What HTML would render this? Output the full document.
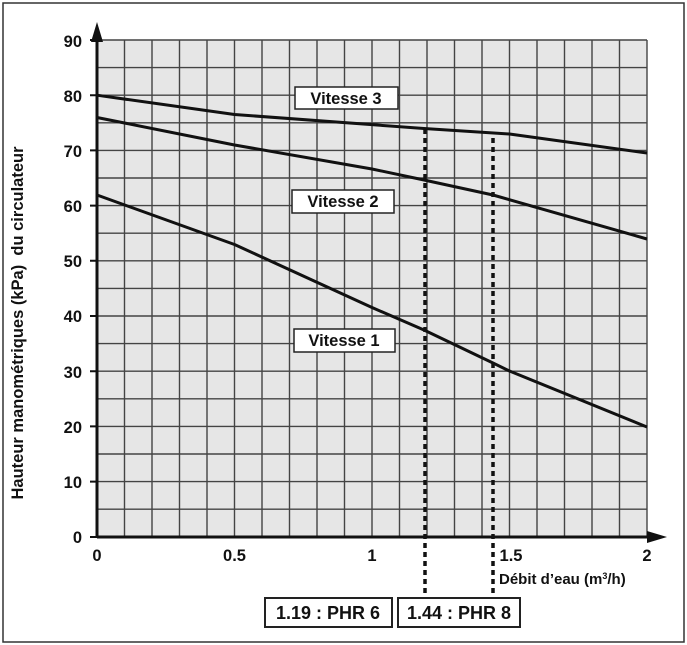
<!DOCTYPE html>
<html><head><style>body{margin:0;background:#fff}svg{display:block}</style></head><body>
<svg width="687" height="645" viewBox="0 0 687 645" font-family="Liberation Sans, sans-serif" font-weight="bold">
<rect x="3" y="3" width="681" height="639" fill="#fff" stroke="#333" stroke-width="1.5"/>
<rect x="97" y="40" width="550" height="497" fill="#e6e6e6"/>
<g stroke="#444" stroke-width="1.4">
<path d="M124.5 40V537M152 40V537M179.5 40V537M207 40V537M234.5 40V537M262 40V537M289.5 40V537M317 40V537M344.5 40V537M372 40V537M399.5 40V537M427 40V537M454.5 40V537M482 40V537M509.5 40V537M537 40V537M564.5 40V537M592 40V537M619.5 40V537M647 40V537"/>
<path d="M97 40H647M97 67.6H647M97 95.2H647M97 122.8H647M97 150.4H647M97 178H647M97 205.6H647M97 233.2H647M97 260.8H647M97 288.4H647M97 316H647M97 343.6H647M97 371.2H647M97 398.8H647M97 426.4H647M97 454H647M97 481.6H647M97 509.2H647"/>
</g>
<g stroke="#111" stroke-width="2">
<path d="M90 95.2H97M90 150.4H97M90 205.6H97M90 260.8H97M90 316H97M90 371.2H97M90 426.4H97M90 481.6H97M90 537H97M90 40H97"/>
</g>
<path d="M97 537V40" stroke="#111" stroke-width="3"/>
<path d="M97 537H650" stroke="#111" stroke-width="3"/>
<polygon points="97,22 91,42 103,42" fill="#111"/>
<polygon points="667,537 647,531 647,543" fill="#111"/>
<g fill="none" stroke="#111" stroke-width="3" stroke-linejoin="round">
<path d="M97 95.2L234.5 114.5L424 128.5L509.5 134L647 153"/>
<path d="M97 117.5L234.5 145L372 169L424 180L493 195L647 239"/>
<path d="M97 195L234.5 244.5L372 307.5L424 330L493 363L509.5 371L647 427"/>
</g>
<g stroke="#111" stroke-width="3.5" stroke-dasharray="5,4">
<path d="M425 129V598"/>
<path d="M493 138V598"/>
</g>
<g fill="#fff" stroke="#222" stroke-width="1.5">
<rect x="295" y="87" width="103" height="22"/>
<rect x="292" y="190" width="102" height="23"/>
<rect x="294" y="329" width="101" height="23"/>
<rect x="265" y="598" width="127" height="29" stroke-width="2"/>
<rect x="398" y="598" width="122" height="29" stroke-width="2"/>
</g>
<g fill="#111" font-size="16.5">
<text x="346" y="104" text-anchor="middle">Vitesse 3</text>
<text x="343" y="207" text-anchor="middle">Vitesse 2</text>
<text x="344" y="346" text-anchor="middle">Vitesse 1</text>
<text x="328" y="619" text-anchor="middle" font-size="18">1.19 : PHR 6</text>
<text x="459" y="619" text-anchor="middle" font-size="18">1.44 : PHR 8</text>
</g>
<g fill="#111" font-size="16.5" text-anchor="end">
<text x="82" y="47">90</text><text x="82" y="102">80</text><text x="82" y="157">70</text><text x="82" y="212">60</text><text x="82" y="267">50</text><text x="82" y="322">40</text><text x="82" y="378">30</text><text x="82" y="433">20</text><text x="82" y="488">10</text><text x="82" y="543">0</text>
</g>
<g fill="#111" font-size="16.5" text-anchor="middle">
<text x="97" y="561">0</text><text x="234.5" y="561">0.5</text><text x="372" y="561">1</text><text x="511" y="561">1.5</text><text x="647" y="561">2</text>
</g>
<text x="499" y="584" font-size="15" fill="#111">Débit d’eau (m<tspan font-size="9" dy="-5">3</tspan><tspan dy="5">/h)</tspan></text>
<text transform="translate(23,323) rotate(-90)" text-anchor="middle" font-size="16.5" fill="#111" xml:space="preserve">Hauteur manométriques (kPa)  du circulateur</text>
</svg>
</body></html>
